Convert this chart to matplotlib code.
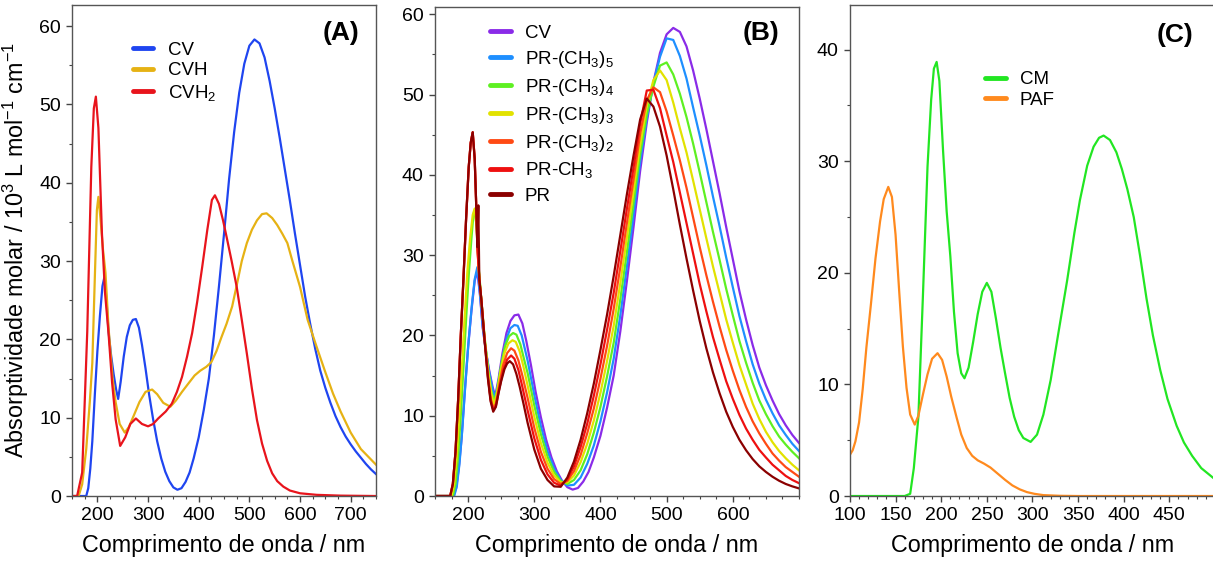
import matplotlib
matplotlib.use('Agg')
import matplotlib.pyplot as plt
from matplotlib.ticker import MultipleLocator

plt.rcParams['font.family'] = ['Liberation Sans', 'DejaVu Sans']
plt.rcParams['mathtext.fontset'] = 'custom'
plt.rcParams['mathtext.rm'] = 'Liberation Sans'
plt.rcParams['mathtext.it'] = 'Liberation Sans:italic'
plt.rcParams['mathtext.bf'] = 'Liberation Sans:bold'

# ---------------- panel A ----------------
wl_cv = [150, 170, 178, 182, 186, 190, 195, 200, 205, 210, 214, 218, 222, 227, 232, 237, 241, 246, 252, 258,
         264, 270, 276, 282, 288, 295, 302, 310, 318, 326, 334, 342, 350, 358, 366, 374, 382, 390, 400, 410,
         420, 430, 440, 450, 460, 470, 480, 490, 500, 510, 520, 530, 540, 550, 560, 570, 580, 590, 600, 610,
         620, 630, 640, 650, 660, 670, 680, 690, 700, 710, 720, 730, 740, 750]
cv = [0, 0, 0, 1, 3.5, 7, 13, 18.5, 23, 26.8, 28, 25, 21, 18, 15.6, 13.6, 12.4, 14.6, 17.8, 20.3,
      21.8, 22.5, 22.6, 21.5, 19.3, 16.3, 13, 9.8, 7, 4.8, 3.1, 1.9, 1.1, 0.8, 1.0, 1.8, 3.0, 4.8, 7.5, 11,
      15, 20.5, 26.8, 33.5, 40.5, 46.5, 51.5, 55.2, 57.5, 58.3, 57.8, 56, 53, 49.5, 45.7, 41.7, 37.7, 33.5, 29.5, 25.5,
      22, 18.8, 16, 13.8, 11.9, 10.2, 8.8, 7.6, 6.6, 5.7, 4.9, 4.1, 3.4, 2.8]

wl_cvh = [150, 163, 170, 178, 185, 190, 195, 199, 202, 206, 211, 216, 222, 230, 236, 244, 254, 262, 272, 283,
          295, 308, 318, 330, 344, 355, 367, 380, 392, 403, 415, 425, 435, 445, 455, 466, 475, 485, 495, 505,
          515, 525, 534, 545, 555, 565, 575, 585, 600, 615, 633, 650, 665, 680, 700, 720, 750]
cvh = [0, 0, 1.5, 6, 12, 17, 28, 36.5, 38.2, 35.5, 31.5, 28.5, 21.5, 15, 12, 9.2, 8.1, 8.8, 10.3, 12,
       13.3, 13.6, 13, 11.9, 11.4, 12.2, 13.3, 14.4, 15.4, 16, 16.5, 17.1, 18.5, 20.3, 22, 24.2, 26.9, 30, 32.3, 34,
       35.2, 36, 36.1, 35.5, 34.6, 33.5, 32.3, 30, 26.7, 22.5, 19, 15.8, 13.1, 10.8, 8.1, 6, 4]

wl_cvh2 = [150, 160, 170, 180, 188, 193, 197, 202, 209, 215, 222, 229, 236, 245, 255, 265, 276, 288, 300, 310,
           320, 335, 347, 357, 367, 377, 387, 397, 407, 417, 426, 432, 440, 448, 455, 465, 475, 485, 495, 505,
           515, 525, 535, 545, 555, 567, 580, 600, 633, 680, 750]
cvh2 = [0, 0, 3, 21, 42, 49.5, 51, 47, 33.5, 26, 20.8, 14.5, 9.8, 6.4, 7.5, 9.2, 9.9, 9.2, 8.9, 9.2,
        9.9, 10.8, 11.8, 13.3, 15.2, 17.8, 20.8, 24.8, 29.3, 34, 37.8, 38.4, 37.3, 35.2, 33.1, 30, 26.7, 22.5, 18.2, 13.7,
        9.7, 6.7, 4.5, 2.9, 1.9, 1.2, 0.7, 0.35, 0.15, 0.05, 0]

# ---------------- panel B ----------------
wl_vis = [290, 300, 310, 320, 330, 340, 350, 360, 370, 380, 390, 400, 410, 420, 430, 440, 450, 460, 470, 480,
          490, 500, 510, 520, 530, 540, 550, 560, 570, 580, 590, 600, 610, 620, 630, 640, 650, 660, 670, 680,
          690, 700]

wl_pr5_uv = [150, 170, 179, 183, 187, 191, 196, 201, 206, 210, 214, 218, 222, 227, 232, 237, 241, 246, 252, 258,
             264, 270, 275, 281]
pr5_uv = [0, 0, 0, 1.2, 4, 8, 14, 19.5, 24, 27, 28.5, 25.2, 21.2, 18, 15.4, 13.3, 12.2, 14.2, 17.2, 19.6,
          20.9, 21.3, 21.2, 20]
pr5_vis = [16.85, 12.6, 8.7, 5.6, 3.45, 2.0, 1.3, 1.4, 2.3, 4.0, 6.3, 9.3, 12.9, 17.1, 22.5, 28.6, 35, 41.6, 47, 51.4,
           54.7, 57, 56.8, 54.8, 52, 48.4, 44.9, 41.2, 37.3, 33.6, 29.7, 26, 22.4, 19.3, 16.4, 14, 12, 10.3, 8.8, 7.6,
           6.5, 5.6]

wl_pr4_uv = [150, 170, 177, 181, 185, 189, 193, 197, 201, 205, 208, 210, 213, 216, 220, 225, 230, 235, 239.5, 244,
             250, 256, 262, 268, 273, 279, 285]
pr4_uv = [0, 0, 0, 1.5, 5, 10, 16, 22, 27.5, 32, 35, 35.6, 33.5, 28.5, 24.5, 19.8, 16, 13.1, 11.8, 13.2,
          16.3, 18.7, 19.9, 20.3, 20.1, 18.9, 16.9]
pr4_vis = [15.3, 11.3, 7.7, 4.9, 3.0, 1.85, 1.5, 2.0, 3.2, 5.2, 7.9, 11.1, 14.9, 19.1, 24.5, 30.4, 36.5, 42.6, 47.5, 51,
           53.6, 54, 52.5, 50.1, 47.2, 43.9, 40.3, 36.6, 32.9, 29.4, 25.8, 22.5, 19.3, 16.6, 14.1, 11.9, 10.2, 8.7, 7.4, 6.4,
           5.5, 4.7]

wl_pr3_uv = [150, 170, 175, 179, 183, 187, 191, 195, 199, 203, 207, 210, 213, 216, 220, 225, 230, 235, 239, 243,
             249, 255, 261, 267, 272, 278, 284]
pr3_uv = [0, 0, 0, 1.5, 5, 10.5, 16.5, 22.5, 28, 32, 35, 35.8, 33.5, 28.3, 24.4, 19.6, 15.7, 12.8, 11.4, 12.5,
          15.5, 17.8, 19, 19.4, 19.2, 18, 16]
pr3_vis = [13.75, 9.9, 6.6, 4.15, 2.55, 1.7, 1.7, 2.55, 4.2, 6.5, 9.4, 12.85, 16.8, 21.2, 26.5, 32.2, 38, 43.7, 48.6, 51.8,
           53, 51.8, 49, 45.8, 42.8, 39.3, 35.7, 32.1, 28.6, 25.3, 22, 19.1, 16.3, 13.9, 11.5, 9.6, 8.0, 6.7, 5.6, 4.7,
           3.9, 3.2]

wl_pr2_uv = [150, 170, 173, 177, 181, 185, 189, 193, 197, 201, 204, 207, 210, 212, 214, 217, 220, 225, 230, 234,
             238, 242, 247, 253, 259, 265, 270, 276, 282]
pr2_uv = [0, 0, 0, 1.5, 5.5, 12, 20, 27, 34.5, 41, 44, 45.3, 42, 37, 31, 27, 24.5, 19.5, 15, 12.2,
          10.9, 11.5, 13.8, 16.3, 17.8, 18.4, 18.1, 16.9, 15]
pr2_vis = [12.2, 8.5, 5.5, 3.4, 2.1, 1.5, 1.9, 3.1, 5.1, 7.8, 10.9, 14.6, 18.7, 23.3, 28.5, 34, 39.4, 45.1, 49.3, 50.9,
           50.3, 47.9, 44.9, 41.8, 38.4, 34.7, 31, 27.5, 24.2, 21.1, 18.2, 15.6, 13.2, 11.1, 9.3, 7.8, 6.5, 5.3, 4.4, 3.6,
           3.0, 2.4]

wl_prch3_uv = [150, 170, 173, 177, 181, 185, 189, 193, 197, 201, 204, 207, 210, 212, 214, 217, 220, 225, 230, 234,
               238, 242, 247, 253, 259, 265, 270, 276, 282]
prch3_uv = [0, 0, 0, 1.5, 5.5, 12, 20, 27, 34.5, 41, 44, 45.3, 42, 37, 31, 27, 24.5, 19.5, 14.8, 12,
            10.7, 11.2, 13.3, 15.6, 17, 17.5, 17.1, 15.7, 13.6]
prch3_vis = [10.65, 7.2, 4.5, 2.7, 1.65, 1.3, 2.1, 3.7, 6.1, 9.0, 12.5, 16.4, 20.7, 25.3, 30.5, 35.8, 40.9, 46.4, 50.5, 50.6,
             48.3, 44.9, 41.6, 37.8, 34, 30.2, 26.4, 23, 19.8, 17, 14.3, 12.1, 10.1, 8.4, 7.0, 5.75, 4.8, 3.9, 3.2, 2.5,
             2.0, 1.6]

wl_pr_uv = [150, 170, 173, 177, 181, 185, 189, 193, 197, 201, 204, 207, 210, 212, 214, 215.5, 217, 220, 225, 230,
            234, 238, 242, 246, 250, 255, 259, 263, 268, 273, 278, 284]
pr_uv = [0, 0, 0, 1.5, 5.5, 12, 20, 27, 34.5, 41, 44, 45.3, 42, 37, 31, 36.2, 27, 24.5, 19.3, 14.6,
         11.8, 10.5, 11.1, 12.8, 14.3, 15.8, 16.5, 16.8, 16.4, 15.2, 13.6, 11.4]
pr_vis = [9.1, 5.8, 3.4, 2.0, 1.2, 1.15, 2.3, 4.3, 7.0, 10.3, 14, 18.2, 22.6, 27.4, 32.5, 37.6, 42.4, 46.9, 49.5, 48.5,
          46, 42.4, 38.2, 33.8, 29.6, 25.6, 21.8, 18.4, 15.4, 12.8, 10.5, 8.6, 7.0, 5.7, 4.6, 3.7, 3.0, 2.4, 1.9, 1.5,
          1.2, 0.95]

# ---------------- panel C ----------------
wl_cm = [100, 160, 166, 170, 175, 180, 185, 189, 192, 195, 198, 202, 206, 210, 214, 218, 222, 225.5, 230, 235,
         240, 245, 250, 255, 260, 265, 270, 275, 280, 285, 290, 298, 305, 312, 320, 328, 338, 346, 352, 360,
         367, 373, 378, 385, 392, 398, 404, 411, 418, 425, 432, 440, 448, 458, 466, 475, 485, 500]
cm = [0, 0, 0.2, 2.5, 7.1, 18, 29.5, 35.5, 38.3, 38.9, 37.2, 31, 25.5, 21.5, 16.5, 12.8, 11, 10.55, 11.5, 13.8,
      16.3, 18.3, 19.1, 18.3, 15.9, 13.3, 11, 8.8, 7.1, 5.9, 5.2, 4.85, 5.5, 7.3, 10.4, 14.4, 19.3, 23.6, 26.5, 29.6,
      31.3, 32.1, 32.3, 31.9, 30.8, 29.3, 27.5, 25, 21.5, 17.7, 14.4, 11.3, 8.7, 6.3, 4.8, 3.6, 2.5, 1.5]

wl_paf = [100, 103, 106, 110, 114, 118, 123, 128, 133, 137, 142, 146, 150, 154, 158, 162, 166, 171, 175, 180,
          185, 190, 196, 201, 206, 211, 217, 222, 228, 234, 240, 247, 254, 262, 270, 278, 286, 294, 302, 312,
          330, 350, 500]
paf = [3.7, 4.1, 4.9, 6.6, 9.6, 13.3, 17.2, 21.3, 24.6, 26.6, 27.7, 26.8, 23.4, 18.3, 13.4, 9.7, 7.3, 6.4, 7.2, 9.1,
       10.9, 12.3, 12.8, 12.2, 10.7, 8.9, 7.0, 5.5, 4.3, 3.6, 3.2, 2.9, 2.55, 2.0, 1.45, 0.95, 0.6, 0.35, 0.2, 0.08,
       0.02, 0, 0]

LW = 1.6
TICK_FS = 14
LABEL_FS = 16.8
LEG_FS = 13.5
PANEL_FS = 19

fig = plt.figure(figsize=(12.13, 5.62), dpi=100)
axA = fig.add_axes([0.0594, 0.1174, 0.2506, 0.8737])
axB = fig.add_axes([0.3586, 0.1174, 0.3001, 0.8701])
axC = fig.add_axes([0.7007, 0.1174, 0.3009, 0.8737])


def style(ax, xlim, ylim, xticks, xminor):
    ax.set_xlim(*xlim)
    ax.set_ylim(*ylim)
    ax.set_xticks(xticks)
    ax.xaxis.set_minor_locator(MultipleLocator(xminor))
    ax.yaxis.set_major_locator(MultipleLocator(10))
    ax.yaxis.set_minor_locator(MultipleLocator(5))
    ax.tick_params(which='both', direction='out', top=False, right=False,
                   color='#444444', labelsize=TICK_FS, pad=4)
    ax.tick_params(which='major', length=4, width=1)
    ax.tick_params(which='minor', length=2.2, width=0.8)
    for s in ax.spines.values():
        s.set_color('#555555')
        s.set_linewidth(1)
    ax.set_xlabel('Comprimento de onda / nm', fontsize=LABEL_FS, labelpad=7)


def legend(ax, x, y, spacing):
    leg = ax.legend(loc='upper left', bbox_to_anchor=(x, y), frameon=False, fontsize=LEG_FS,
                    handlelength=1.1, handletextpad=0.75, labelspacing=spacing,
                    borderpad=0, borderaxespad=0)
    for ln in leg.get_lines():
        ln.set_linewidth(3.5)
        ln.set_solid_capstyle('round')
    return leg


# panel A
axA.plot(wl_cv, cv, color='#1f45f0', lw=LW, label='CV')
axA.plot(wl_cvh, cvh, color='#e6b214', lw=LW, label='CVH')
axA.plot(wl_cvh2, cvh2, color='#e8141c', lw=LW, label='CVH$_2$')
style(axA, (150, 750), (0, 62.7), [200, 300, 400, 500, 600, 700], 25)
axA.set_ylabel('Absorptividade molar / 10$^3$ L mol$^{-1}$ cm$^{-1}$', fontsize=LABEL_FS, labelpad=6)
legend(axA, 0.2, 0.925, 0.18)
axA.text(0.885, 0.943, '(A)', transform=axA.transAxes, ha='center', va='center',
         fontsize=PANEL_FS, fontweight='bold')

# panel B
series_b = [
    (wl_cv, cv, '#8a2be8', 'CV'),
    (wl_pr5_uv + wl_vis, pr5_uv + pr5_vis, '#1e8fff', 'PR-(CH$_3$)$_5$'),
    (wl_pr4_uv + wl_vis, pr4_uv + pr4_vis, '#5ef022', 'PR-(CH$_3$)$_4$'),
    (wl_pr3_uv + wl_vis, pr3_uv + pr3_vis, '#e2e200', 'PR-(CH$_3$)$_3$'),
    (wl_pr2_uv + wl_vis, pr2_uv + pr2_vis, '#ff4a14', 'PR-(CH$_3$)$_2$'),
    (wl_prch3_uv + wl_vis, prch3_uv + prch3_vis, '#ee1010', 'PR-CH$_3$'),
    (wl_pr_uv + wl_vis, pr_uv + pr_vis, '#8b0000', 'PR'),
]
for x, y, c, lab in series_b:
    axB.plot(x, y, color=c, lw=LW, label=lab)
style(axB, (150, 700), (0, 60.9), [200, 300, 400, 500, 600], 25)
legend(axB, 0.151, 0.964, 0.37)
axB.text(0.895, 0.947, '(B)', transform=axB.transAxes, ha='center', va='center',
         fontsize=PANEL_FS, fontweight='bold')

# panel C
axC.plot(wl_cm, cm, color='#22e622', lw=LW, label='CM')
axC.plot(wl_paf, paf, color='#ff8a1e', lw=LW, label='PAF')
style(axC, (100, 500), (0, 44), [100, 150, 200, 250, 300, 350, 400, 450], 10)
legend(axC, 0.37, 0.865, 0.18)
axC.text(0.89, 0.939, '(C)', transform=axC.transAxes, ha='center', va='center',
         fontsize=PANEL_FS, fontweight='bold')

fig.savefig('out.png', dpi=100)
